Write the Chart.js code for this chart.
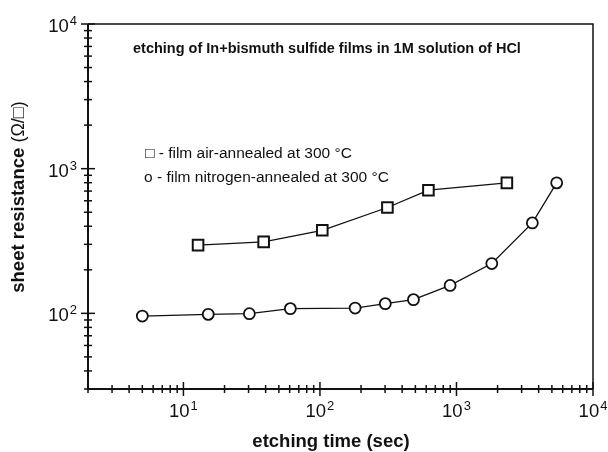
<!DOCTYPE html>
<html>
<head>
<meta charset="utf-8">
<script src="https://cdn.jsdelivr.net/npm/chart.js@4.4.1/dist/chart.umd.min.js"></script>
<style>
  body { margin: 0; background: #fff; }
  #wrap { width: 608px; height: 452px; }
</style>
</head>
<body>
<div id="wrap"><canvas id="myChart" width="608" height="452"></canvas></div>
<script>
// etching time (sec) vs sheet resistance (ohm/sq)
var airTime = [12.8, 38.7, 104, 312, 623, 2340];
var airRes = [296, 312, 375, 539, 710, 798];
var n2Time = [5, 15.2, 30.4, 60.7, 181, 301, 484, 898, 1814, 3595, 5420];
var n2Res = [95.8, 98.4, 99.5, 107.8, 108.8, 116.7, 124.4, 156, 221, 422, 798];

// decade tick labels: 10^n
var xTickValues = [10, 100, 1000, 10000];
var xTickExp = ['1', '2', '3', '4'];
var yTickValues = [100, 1000, 10000];
var yTickExp = ['2', '3', '4'];

var FONT = '"Liberation Sans", Arial, Helvetica, sans-serif';

function toPoints(xs, ys) {
  var pts = [];
  for (var i = 0; i < xs.length; i++) pts.push({ x: xs[i], y: ys[i] });
  return pts;
}

function logTicks(scale, horizontal, ctx, a) {
  for (var e = -1; e <= 4; e++) {
    for (var m = 1; m <= 9; m++) {
      var v = m * Math.pow(10, e);
      if (v < scale.min * 0.999 || v > scale.max * 1.001) continue;
      var p = scale.getPixelForValue(v);
      var len = m === 1 ? 7 : 4;
      ctx.beginPath();
      if (horizontal) {
        ctx.moveTo(p, a.bottom - len);
        ctx.lineTo(p, a.bottom + len);
      } else {
        ctx.moveTo(a.left - len, p);
        ctx.lineTo(a.left + len, p);
      }
      ctx.stroke();
    }
  }
}

function powerLabel(ctx, base, exp, x, y, align) {
  ctx.font = '18.5px ' + FONT;
  var w1 = ctx.measureText(base).width;
  ctx.font = '13px ' + FONT;
  var w2 = ctx.measureText(exp).width;
  var left = align === 'right' ? x - w1 - w2 - 1 : x - (w1 + w2 + 1) / 2;
  ctx.textAlign = 'left';
  ctx.textBaseline = 'alphabetic';
  ctx.font = '18.5px ' + FONT;
  ctx.fillText(base, left, y);
  ctx.font = '13px ' + FONT;
  ctx.fillText(exp, left + w1 + 1, y - 7);
}

var axesPlugin = {
  id: 'axesPlugin',
  afterDraw: function (chart) {
    var ctx = chart.ctx, a = chart.chartArea;
    var xs = chart.scales.x, ys = chart.scales.y;
    ctx.save();
    ctx.strokeStyle = '#111';
    ctx.fillStyle = '#111';

    // box
    ctx.lineWidth = 1.5;
    ctx.beginPath();
    ctx.moveTo(a.left, a.top);
    ctx.lineTo(a.right, a.top);
    ctx.lineTo(a.right, a.bottom);
    ctx.stroke();
    ctx.lineWidth = 2;
    ctx.beginPath();
    ctx.moveTo(a.left, a.top);
    ctx.lineTo(a.left, a.bottom);
    ctx.lineTo(a.right, a.bottom);
    ctx.stroke();

    ctx.lineWidth = 1.5;
    logTicks(xs, true, ctx, a);
    logTicks(ys, false, ctx, a);

    var i;
    for (i = 0; i < xTickValues.length; i++) {
      powerLabel(ctx, '10', xTickExp[i], xs.getPixelForValue(xTickValues[i]), a.bottom + 28, 'center');
    }
    for (i = 0; i < yTickValues.length; i++) {
      powerLabel(ctx, '10', yTickExp[i], a.left - 11, ys.getPixelForValue(yTickValues[i]) + 8, 'right');
    }

    // axis titles
    ctx.textBaseline = 'middle';
    ctx.textAlign = 'center';
    ctx.font = 'bold 18.5px ' + FONT;
    ctx.fillText('etching time (sec)', 331, 442);

    ctx.save();
    ctx.translate(19, 197);
    ctx.rotate(-Math.PI / 2);
    var t1 = 'sheet resistance ', t2 = '(\u03A9/\u25A1)';
    ctx.font = 'bold 18.5px ' + FONT;
    var w1 = ctx.measureText(t1).width;
    ctx.font = '18px ' + FONT;
    var w2 = ctx.measureText(t2).width;
    ctx.textAlign = 'left';
    ctx.font = 'bold 18.5px ' + FONT;
    ctx.fillText(t1, -(w1 + w2) / 2, 0);
    ctx.font = '18px ' + FONT;
    ctx.fillText(t2, -(w1 + w2) / 2 + w1, 0);
    ctx.restore();

    // notes inside the plot
    ctx.textAlign = 'left';
    ctx.font = 'bold 14.5px ' + FONT;
    ctx.fillText('etching of In+bismuth sulfide films in 1M solution of HCl', 133, 49);
    ctx.font = '15.5px ' + FONT;
    ctx.fillText('\u25A1 - film air-annealed at 300 \u00B0C', 145, 154);
    ctx.fillText('o - film nitrogen-annealed at 300 \u00B0C', 144, 178);
    ctx.restore();
  }
};

var ctx = document.getElementById('myChart').getContext('2d');
var myChart = new Chart(ctx, {
  type: 'scatter',
  data: {
    datasets: [
      {
        label: 'air-annealed',
        data: toPoints(airTime, airRes),
        showLine: true,
        borderColor: '#111',
        borderWidth: 1.3,
        pointStyle: 'rect',
        pointRadius: 7.5,
        pointBorderWidth: 2,
        pointBackgroundColor: '#fff',
        pointBorderColor: '#111'
      },
      {
        label: 'nitrogen-annealed',
        data: toPoints(n2Time, n2Res),
        showLine: true,
        borderColor: '#111',
        borderWidth: 1.3,
        pointStyle: 'circle',
        pointRadius: 5.5,
        pointBorderWidth: 1.8,
        pointBackgroundColor: '#fff',
        pointBorderColor: '#111'
      }
    ]
  },
  options: {
    responsive: false,
    animation: false,
    layout: { padding: { left: 88, right: 15, top: 24, bottom: 63 } },
    plugins: { legend: { display: false }, tooltip: { enabled: false } },
    scales: {
      x: { type: 'logarithmic', min: 2, max: 10000, display: false },
      y: { type: 'logarithmic', min: 30, max: 10000, display: false }
    }
  },
  plugins: [axesPlugin]
});
</script>
</body>
</html>
